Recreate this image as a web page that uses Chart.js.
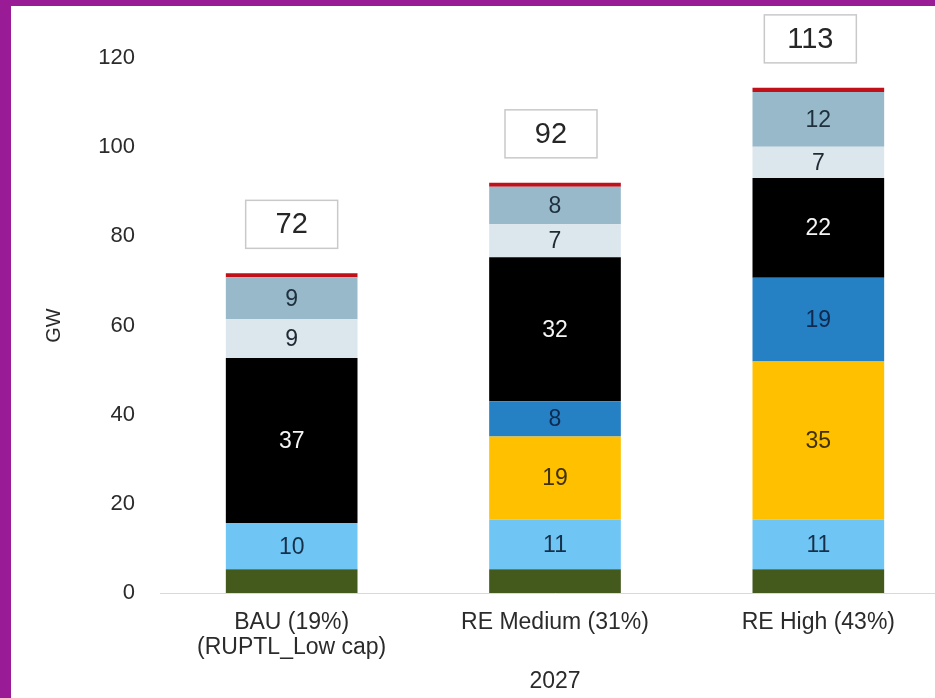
<!DOCTYPE html>
<html lang="en">
<head>
  <meta charset="UTF-8">
  <title>Capacity 2027</title>
  <script src="https://cdn.jsdelivr.net/npm/chart.js@4.4.0/dist/chart.umd.min.js"></script>
  <style>
    html, body { margin: 0; padding: 0; overflow: hidden; background: #fff; }
    .frame-left { position: absolute; left: 0; top: 0; width: 11px; height: 698px; background: #9a1b96; }
    .frame-top { position: absolute; left: 0; top: 0; width: 935px; height: 6px; background: #9a1b96; }
    #wrap { position: absolute; left: 0; top: 0; width: 950px; height: 698px; }
  </style>
</head>
<body>
  <div id="wrap"><canvas id="chart" width="950" height="698"></canvas></div>
  <div class="frame-left"></div>
  <div class="frame-top"></div>

  <script>
    // Categories (two-line labels)
    const categories = [['BAU (19%)', '(RUPTL_Low cap)'], 'RE Medium (31%)', 'RE High (43%)'];
    const yTicks = [0, 20, 40, 60, 80, 100, 120];

    // Stacked series, bottom to top (GW)
    const greenVals = [5.3, 5.3, 5.3];
    const lightBlueVals = [10.4, 11.2, 11.2];
    const yellowVals = [0, 18.6, 35.4];
    const blueVals = [0, 7.9, 18.8];
    const blackVals = [37.0, 32.3, 22.4];
    const paleVals = [8.7, 7.4, 7.0];
    const greyBlueVals = [9.4, 8.4, 12.3];
    const redVals = [0.9, 0.9, 0.9];

    const series = [
      { data: greenVals, color: '#435a1c', label: false },
      { data: lightBlueVals, color: '#6fc6f5', label: '#17304a' },
      { data: yellowVals, color: '#ffc000', label: '#3f3100' },
      { data: blueVals, color: '#2680c4', label: '#0e2a50' },
      { data: blackVals, color: '#000000', label: '#f4f4f4' },
      { data: paleVals, color: '#dbe6ed', label: '#1e2a33' },
      { data: greyBlueVals, color: '#98b9c9', label: '#1e2f3d' },
      { data: redVals, color: '#c0111a', label: false }
    ];

    const totals = categories.map((c, i) => series.reduce((s, d) => s + d.data[i], 0));
    const FONT = '"Liberation Sans", Arial, sans-serif';

    // Segment values and total boxes
    const labelPlugin = {
      id: 'barLabels',
      afterDatasetsDraw(chart) {
        const ctx = chart.ctx;
        ctx.save();
        ctx.textAlign = 'center';
        ctx.textBaseline = 'middle';
        ctx.font = '23px ' + FONT;
        chart.data.datasets.forEach((ds, di) => {
          if (!ds.labelColor) return;
          chart.getDatasetMeta(di).data.forEach((bar, i) => {
            const v = ds.data[i];
            if (!v) return;
            ctx.fillStyle = ds.labelColor;
            ctx.fillText(Math.round(v), bar.x, (bar.y + bar.base) / 2 + 1);
          });
        });

        // total boxes
        const lastMeta = chart.getDatasetMeta(chart.data.datasets.length - 1);
        lastMeta.data.forEach((bar, i) => {
          const w = 92, h = 48;
          const bottom = bar.y - 25;
          const cx = bar.x - 4 * i;
          ctx.fillStyle = '#ffffff';
          ctx.fillRect(cx - w / 2, bottom - h, w, h);
          ctx.strokeStyle = '#c9c9c9';
          ctx.lineWidth = 1.5;
          ctx.strokeRect(cx - w / 2, bottom - h, w, h);
          ctx.fillStyle = '#262626';
          ctx.font = '29px ' + FONT;
          ctx.fillText(Math.round(totals[i]), cx, bottom - h / 2 + 1);
        });
        ctx.restore();
      }
    };

    new Chart(document.getElementById('chart'), {
      type: 'bar',
      data: {
        labels: categories,
        datasets: series.map(s => ({
          data: s.data,
          backgroundColor: s.color,
          borderWidth: 0,
          labelColor: s.label,
          barPercentage: 1,
          categoryPercentage: 0.5
        }))
      },
      options: {
        responsive: false,
        animation: false,
        layout: { padding: { top: 58, right: 0, left: 0, bottom: 0 } },
        plugins: { legend: { display: false }, tooltip: { enabled: false } },
        scales: {
          x: {
            stacked: true,
            grid: { display: false, drawTicks: false },
            border: { display: true, color: '#d9d9d9', width: 1 },
            ticks: {
              color: '#2b2b2b',
              padding: 17,
              font: { family: FONT, size: 23, lineHeight: 1.09 },
              maxRotation: 0
            },
            title: {
              display: true,
              text: '2027',
              color: '#2b2b2b',
              font: { family: FONT, size: 23, lineHeight: 1.09 },
              padding: { top: 4, bottom: 4 }
            },
            afterFit(scale) { scale.height = 105; }
          },
          y: {
            stacked: true,
            min: 0,
            max: 120,
            afterBuildTicks(scale) { scale.ticks = yTicks.map(v => ({ value: v })); },
            grid: { display: false, drawTicks: false },
            border: { display: false },
            ticks: {
              color: '#2b2b2b',
              padding: 25,
              font: { family: FONT, size: 22 }
            },
            title: {
              display: true,
              text: 'GW',
              color: '#2b2b2b',
              font: { family: FONT, size: 20 },
              padding: { top: 42, bottom: 0 }
            },
            afterFit(scale) { scale.width = 160; }
          }
        }
      },
      plugins: [labelPlugin]
    });
  </script>
</body>
</html>
